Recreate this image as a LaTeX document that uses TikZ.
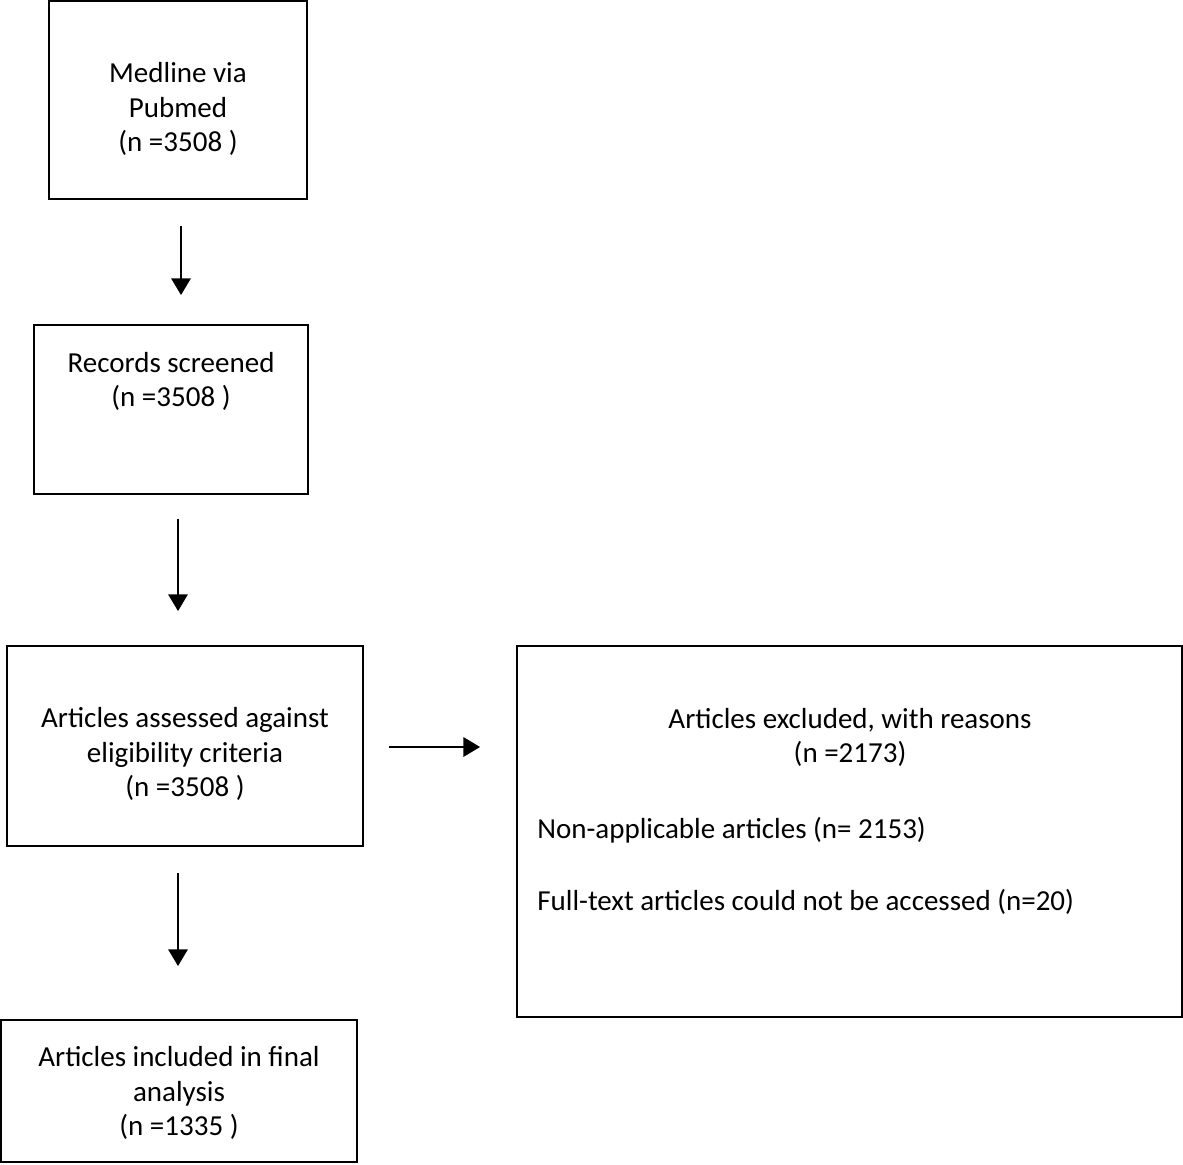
\documentclass[tikz,border=0pt]{standalone}
\usepackage{fontspec}
\setmainfont{Carlito}
\usepackage{tikz}
\usetikzlibrary{arrows.meta, positioning, calc}

\begin{document}
\begin{tikzpicture}[x=0.02cm, y=-0.02cm,
    font=\fontsize{16.5}{19.4}\selectfont,
    box/.style={draw, line width=1.1pt, align=center, inner sep=0pt},
    txt/.style={inner sep=0pt, align=center},
    arr/.style={-{Triangle[width=11pt, length=9.5pt]}, line width=1.3pt}]
  \useasboundingbox (0,0) rectangle (1183,1164);

  \node[box, minimum width=5.16cm, minimum height=3.96cm] (medline) at (178,100) {};
  \node[txt] (medlinetxt) at (178,109) {Medline via\\Pubmed\\(n =3508 )};

  \node[box, minimum width=5.48cm, minimum height=3.38cm] (screened) at (171,409.5) {};
  \node[txt] (screenedtxt) at (171,381) {Records screened\\(n =3508 )};

  \node[box, minimum width=7.12cm, minimum height=4cm] (assessed) at (185,746) {};
  \node[txt] (assessedtxt) at (185,754) {Articles assessed against\\eligibility criteria\\(n =3508 )};

  \node[box, minimum width=7.12cm, minimum height=2.84cm] (included) at (179,1091) {};
  \node[txt] (includedtxt) at (179,1093) {Articles included in final\\analysis\\(n =1335 )};

  \node[box, minimum width=13.3cm, minimum height=7.42cm] (excluded) at (849.5,831.5) {};
  \node[txt] (exclhead) at (850,737) {Articles excluded, with reasons\\(n =2173)};
  \node[txt, anchor=west] (exclna) at (537,830) {Non-applicable articles (n= 2153)};
  \node[txt, anchor=west] (exclft) at (537,902) {Full-text articles could not be accessed (n=20)};

  \draw[arr] ($(medline.south)+(3,26)$) -- ($(medline.south |- screened.north)+(3,-29)$);
  \draw[arr] ($(screened.south)+(7,24)$) -- ($(screened.south |- assessed.north)+(7,-34)$);
  \draw[arr] ($(assessed.south)+(-7,26)$) -- ($(assessed.south |- included.north)+(-7,-53)$);
  \draw[arr] ($(assessed.east)+(25,1)$) -- ($(assessed.east -| excluded.west)+(-36,1)$);
\end{tikzpicture}
\end{document}
